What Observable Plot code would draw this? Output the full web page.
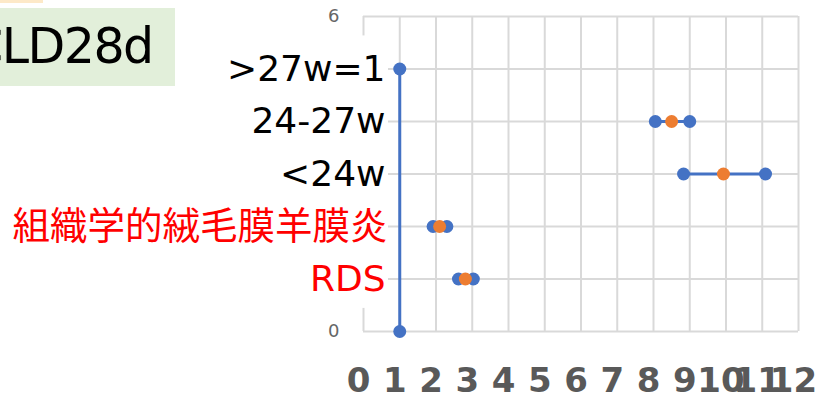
<!DOCTYPE html>
<html><head><meta charset="utf-8">
<script src="https://cdn.jsdelivr.net/npm/d3@7"></script>
<script src="https://cdn.jsdelivr.net/npm/@observablehq/plot@0.6"></script>
<style>
body{margin:0;background:#fff;}
#wrap{position:relative;width:815px;height:399px;overflow:hidden;font-family:'DejaVu Sans','Noto Sans CJK JP',sans-serif;}
#peach{position:absolute;left:0;top:0;width:43px;height:3px;background:#fde9c8;}
#tag{position:absolute;left:0;top:8px;width:175px;height:78px;background:#e2efda;overflow:hidden;}
#tag svg{position:absolute;left:0;top:0;}
</style></head>
<body><div id="wrap"></div>
<script>
// ---- data ----
const rowCategories = [">27w=1", "24-27w", "<24w", "組織学的絨毛膜羊膜炎", "RDS"];
const rowValues = [5, 4, 3, 2, 1];
const riskFactors = ["24-27w", "<24w", "組織学的絨毛膜羊膜炎", "RDS"];
const oddsRatio = [8.5, 9.93, 2.1, 2.81];
const ciLower = [8.05, 8.83, 1.92, 2.62];
const ciUpper = [9.0, 11.09, 2.3, 3.03];
const referenceValue = 1;
const referenceSpan = [0, 5];
const highlightedFactors = ["組織学的絨毛膜羊膜炎", "RDS"];
const xTicks = [0, 1, 2, 3, 4, 5, 6, 7, 8, 9, 10, 11, 12];
const yTicks = [0, 6];
const yGrid = [0, 1, 2, 3, 4, 5, 6];
const panelTitle = "CLD28d";

// ---- derived tables ----
const rowY = new Map(rowCategories.map((c, i) => [c, rowValues[i]]));
const rows = riskFactors.map((f, i) => ({factor: f, y: rowY.get(f), or: oddsRatio[i], lo: ciLower[i], hi: ciUpper[i]}));
const labels = rowCategories.map((c, i) => ({label: c, y: rowValues[i]}));
const refPts = referenceSpan.map(v => ({x: referenceValue, y: v}));

const BLUE = "#4472c4", ORANGE = "#ed7d31", GRID = "#d9d9d9";
const isCJK = s => /[^\x00-\x7f]/.test(s);

const whiteBox = (index, scales) => {
  const r = d3.create("svg:rect")
    .attr("x", 0).attr("width", scales.x(0) + 25)
    .attr("y", scales.y(5.63)).attr("height", scales.y(0.44) - scales.y(5.63))
    .attr("fill", "white");
  return r.node();
};

const chart = Plot.plot({
  width: 815, height: 399,
  marginLeft: 363, marginRight: 17, marginTop: 16, marginBottom: 68,
  style: {fontFamily: "'DejaVu Sans','Noto Sans CJK JP',sans-serif", background: "white"},
  x: {domain: [0, 12]},
  y: {domain: [0, 6]},
  marks: [
    Plot.ruleX(xTicks, {x: d => d, stroke: GRID, strokeWidth: 2}),
    Plot.ruleY(yGrid, {y: d => d, stroke: GRID, strokeWidth: 2}),
    whiteBox,
    Plot.text(labels.filter(d => !isCJK(d.label)), {x: 0, y: "y", text: "label", textAnchor: "end", dx: 22, fontSize: 36,
      fill: d => highlightedFactors.includes(d.label) ? "#ff0000" : "#000000"}),
    Plot.text(labels.filter(d => isCJK(d.label)), {x: 0, y: "y", text: "label", textAnchor: "end", dx: 24, fontSize: 37.5,
      fill: d => highlightedFactors.includes(d.label) ? "#ff0000" : "#000000"}),
    Plot.axisY(yTicks, {tickSize: 0, tickPadding: 24, fontSize: 18, fill: "#666666", label: null, tickFormat: "d"}),
    Plot.axisX(xTicks, {tickSize: 0, tickPadding: 36, fontSize: 34, fontWeight: "bold", fill: "#595959", label: null, dx: -5, tickFormat: "d"}),
    Plot.line(refPts, {x: "x", y: "y", stroke: BLUE, strokeWidth: 3}),
    Plot.dot(refPts, {x: "x", y: "y", r: 6.5, fill: BLUE}),
    Plot.link(rows, {x1: "lo", x2: "hi", y1: "y", y2: "y", stroke: BLUE, strokeWidth: 3}),
    Plot.dot(rows, {x: "lo", y: "y", r: 6.5, fill: BLUE}),
    Plot.dot(rows, {x: "hi", y: "y", r: 6.5, fill: BLUE}),
    Plot.dot(rows, {x: "or", y: "y", r: 6.5, fill: ORANGE})
  ]
});

const wrap = document.getElementById("wrap");
wrap.appendChild(chart);
chart.style.position = "absolute"; chart.style.left = "0"; chart.style.top = "0";

const peach = document.createElement("div"); peach.id = "peach"; wrap.appendChild(peach);
const tag = document.createElement("div"); tag.id = "tag"; wrap.appendChild(tag);
const tsvg = d3.select(tag).append("svg").attr("width", 175).attr("height", 78);
tsvg.append("text").attr("x", -31).attr("y", 55)
  .attr("font-size", 49).attr("letter-spacing", "-1.5px")
  .attr("font-family", "'DejaVu Sans','Noto Sans CJK JP',sans-serif")
  .attr("fill", "#000").text(panelTitle);
</script>
</body></html>
